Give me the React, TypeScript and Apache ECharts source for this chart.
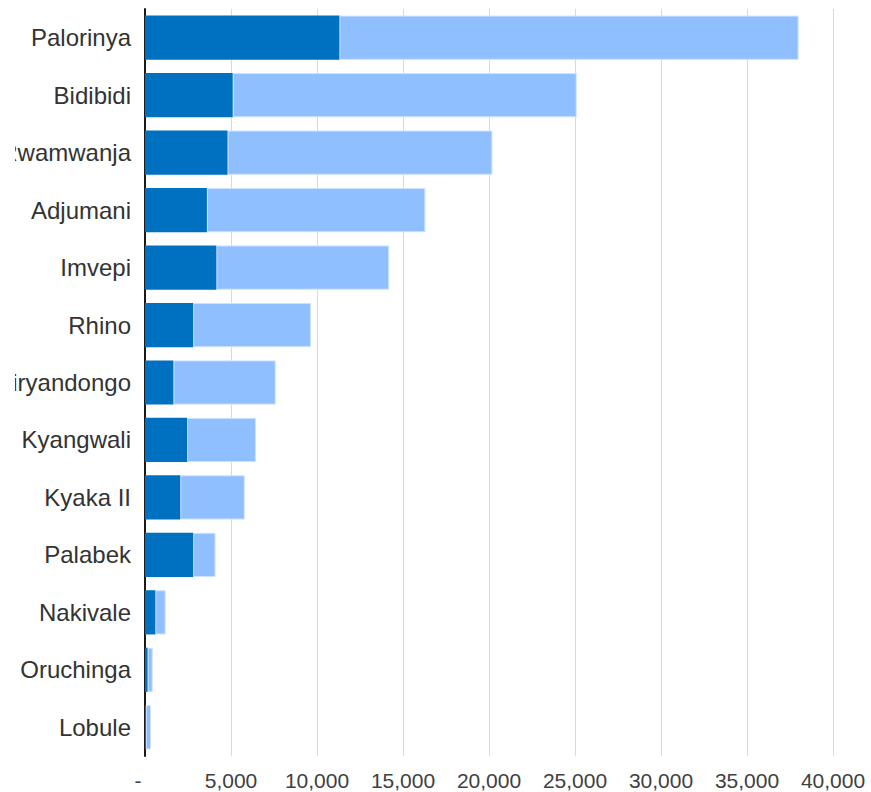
import React, { useEffect, useRef } from "react";
import * as echarts from "echarts";

const categories = [
  "Palorinya",
  "Bidibidi",
  "Rwamwanja",
  "Adjumani",
  "Imvepi",
  "Rhino",
  "Kiryandongo",
  "Kyangwali",
  "Kyaka II",
  "Palabek",
  "Nakivale",
  "Oruchinga",
  "Lobule",
];

const darkValues = [11300, 5100, 4800, 3600, 4150, 2800, 1650, 2450, 2050, 2800, 600, 150, 40];
const lightValues = [26700, 20000, 15400, 12700, 10050, 6850, 5950, 4000, 3750, 1300, 600, 300, 310];

const xTicks = { min: 0, max: 40000, interval: 5000 };

const FONT = "'Liberation Sans', Arial, sans-serif";

export default function App() {
  const ref = useRef<HTMLDivElement>(null);

  useEffect(() => {
    if (!ref.current) return;
    const chart = echarts.init(ref.current, null, { renderer: "svg" });
    chart.setOption({
      animation: false,
      backgroundColor: "#ffffff",
      grid: {
        left: 145,
        right: 38,
        top: 9,
        bottom: 36,
        containLabel: false,
        outerBoundsMode: "none",
      },
      xAxis: {
        type: "value",
        min: xTicks.min,
        max: xTicks.max,
        interval: xTicks.interval,
        axisLine: { show: false },
        axisTick: { show: false },
        splitLine: { show: true, lineStyle: { color: "#d9d9d9", width: 1 } },
        axisLabel: {
          fontFamily: FONT,
          fontSize: 21,
          color: "#404040",
          margin: 14,
          formatter: (v: number) => (v === 0 ? "{dash|-}" : v.toLocaleString("en-US")),
          rich: {
            dash: {
              fontFamily: FONT,
              fontSize: 21,
              color: "#404040",
              padding: [0, 14, 0, 0],
            },
          },
        },
      },
      yAxis: {
        type: "category",
        data: categories,
        inverse: true,
        axisLine: { show: true, lineStyle: { color: "#1a1a1a", width: 2 } },
        axisTick: { show: false },
        splitLine: { show: false },
        axisLabel: {
          fontFamily: FONT,
          fontSize: 24,
          color: "#333333",
          margin: 14,
        },
      },
      series: [
        {
          name: "dark",
          type: "bar",
          stack: "total",
          data: darkValues,
          barCategoryGap: "23%",
          itemStyle: { color: "#0070c0" },
          z: 2,
        },
        {
          name: "light",
          type: "bar",
          stack: "total",
          data: lightValues,
          barCategoryGap: "23%",
          itemStyle: { color: "#8fbfff", borderColor: "#cfe2ff", borderWidth: 1 },
          z: 1,
        },
      ],
    });
    return () => chart.dispose();
  }, []);

  return (
    <div
      style={{
        position: "fixed",
        left: 15,
        top: 0,
        width: 856,
        height: 792,
        overflow: "hidden",
        background: "#ffffff",
      }}
    >
      <div
        ref={ref}
        style={{ position: "absolute", left: -15, top: 0, width: 871, height: 792 }}
      />
    </div>
  );
}
